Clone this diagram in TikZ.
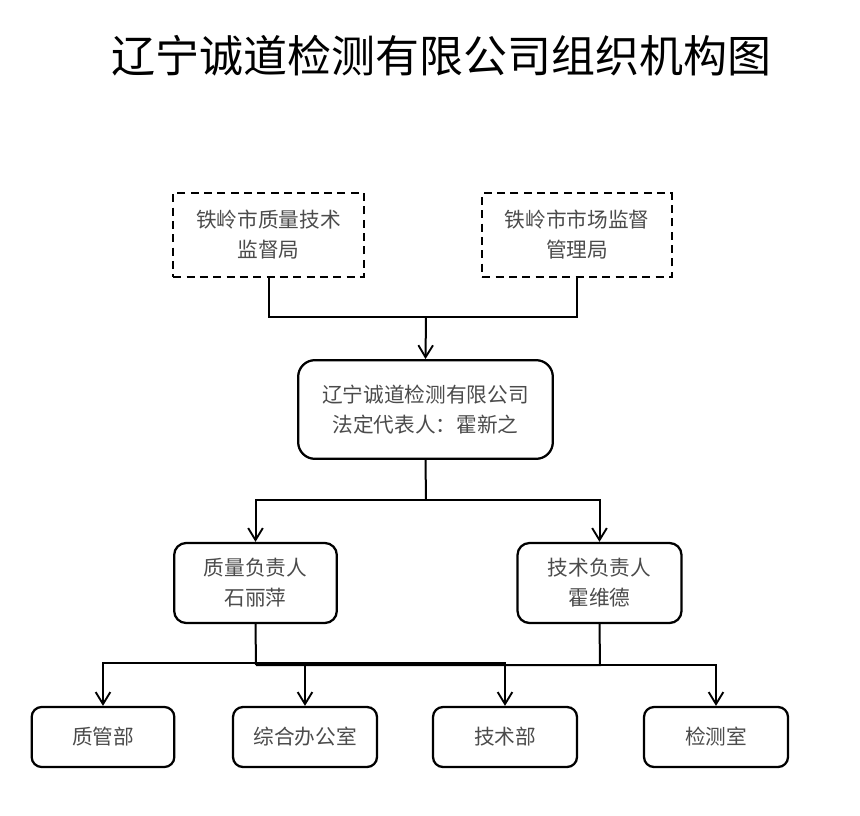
\documentclass[tikz,border=0pt]{standalone}
\usepackage{fontspec}
\usepackage{tikz}
\usetikzlibrary{arrows.meta,positioning}
\newfontfamily\cjk{Noto Sans CJK SC}
\definecolor{TextGray}{RGB}{75,75,75}

\begin{document}
\begin{tikzpicture}[x=0.75pt, y=-0.75pt,
    orgbox/.style={draw, line width=1.7pt, align=center, font=\cjk\fontsize{15.5}{22.5}\selectfont,
      text=TextGray, inner sep=0pt},
    govbox/.style={orgbox, dash pattern=on 6pt off 4pt, line width=1.5pt},
    link/.style={line width=1.5pt},
    arr/.style={link, -{Straight Barb[length=9pt, width=11pt, line width=1.4pt]}}]
      \useasboundingbox (0,0) rectangle (860,816);
      \node[font=\cjk\fontsize{33}{38}\selectfont] (title) at (441,56) {辽宁诚道检测有限公司组织机构图};
      % supervising bodies
      \node[govbox, minimum width=143pt, minimum height=63pt] (gov1) at (268.5,235) {铁岭市质量技术\\监督局};
      \node[govbox, minimum width=142pt, minimum height=63pt] (gov2) at (577,235) {铁岭市市场监督\\管理局};
      \node[orgbox, rounded corners=12.5pt, minimum width=191pt, minimum height=74pt] (comp) at (425.5,409.5) {辽宁诚道检测有限公司\\法定代表人：霍新之};
      \node[orgbox, rounded corners=9pt, minimum width=122pt, minimum height=60pt] (qual) at (255.5,583) {质量负责人\\石丽萍};
      \node[orgbox, rounded corners=9pt, minimum width=123pt, minimum height=60pt] (tech) at (599.5,583) {技术负责人\\霍维德};
      % departments
      \node[orgbox, rounded corners=7.5pt, minimum width=107pt, minimum height=45pt] (dept1) at (103,737) {质管部};
      \node[orgbox, rounded corners=7.5pt, minimum width=108pt, minimum height=45pt] (dept2) at (305,737) {综合办公室};
      \node[orgbox, rounded corners=7.5pt, minimum width=108pt, minimum height=45pt] (dept3) at (505,737) {技术部};
      \node[orgbox, rounded corners=7.5pt, minimum width=108pt, minimum height=45pt] (dept4) at (716,737) {检测室};
      \coordinate (topjoin) at (426,317);
      \coordinate (midjoin) at (426,500);
      \coordinate (qjoin) at (256,663);
      \coordinate (tjoin) at (600,665);
      \coordinate (tleft) at (256,665);
      \draw[link] (gov1.south) |- (topjoin) -| (gov2.south);
      \draw[arr] (topjoin) -- (comp.north);
      \draw[link] (comp.south) -- (midjoin);
      \draw[arr] (midjoin) -| (qual.north);
      \draw[arr] (midjoin) -| (tech.north);
      \draw[link] (qual.south) -- (tleft);
      \draw[arr] (qjoin) -| (dept1.north);
      \draw[arr] (qjoin) -| (dept3.north);
      \draw[link] (tech.south) -- (tjoin) -- (tleft);
      \draw[arr] (tleft) -| (dept2.north);
      \draw[arr] (tjoin) -| (dept4.north);
    \end{tikzpicture}
\end{document}
